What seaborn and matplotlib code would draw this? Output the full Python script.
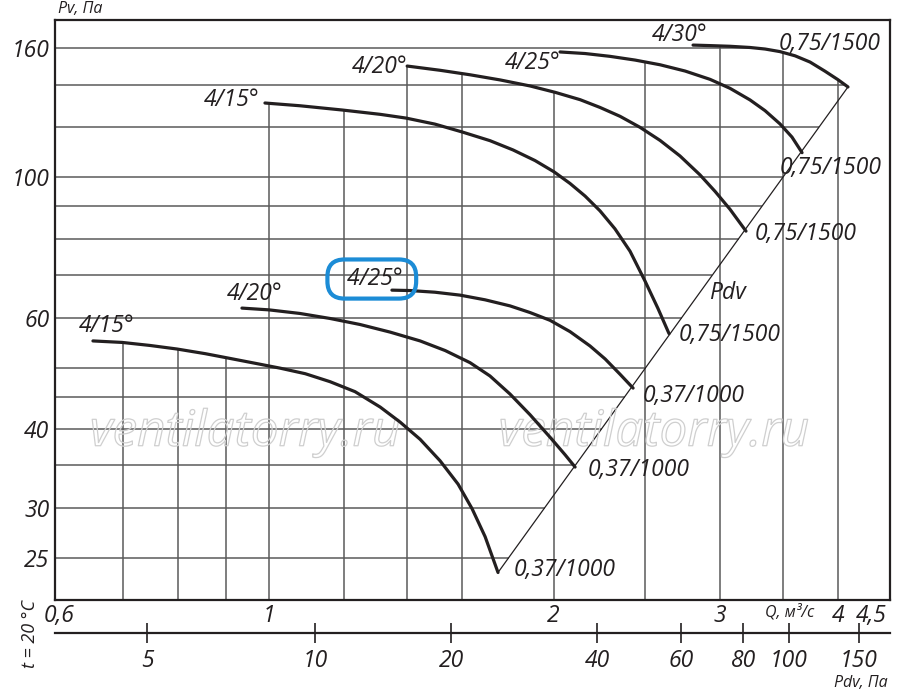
import numpy as np
import pandas as pd
import matplotlib
matplotlib.use("Agg")
import matplotlib.pyplot as plt
import matplotlib.patheffects as pe
from matplotlib.ticker import NullLocator
import seaborn as sns

# %% data: Q [m3/s], Pv [Pa]
curve_names = ["low_15", "low_20", "low_25", "up_15", "up_20", "up_25", "up_30"]
angle_labels = ["4/15°", "4/20°", "4/25°", "4/15°", "4/20°", "4/25°", "4/30°"]
motor_labels = ["0,37/1000", "0,37/1000", "0,37/1000",
                "0,75/1500", "0,75/1500", "0,75/1500", "0,75/1500"]

q_low_15 = [0.651, 0.699, 0.748, 0.799, 0.856, 0.909, 0.966, 1.027, 1.092, 1.160,
            1.233, 1.311, 1.376, 1.445, 1.517, 1.585, 1.640, 1.693, 1.747]
pv_low_15 = [55.1, 54.8, 54.2, 53.5, 52.6, 51.7, 50.8, 49.9, 48.9, 47.5,
             45.8, 43.3, 41.0, 38.5, 35.6, 32.7, 29.9, 27.0, 23.7]

q_low_20 = [0.936, 1.0, 1.078, 1.160, 1.248, 1.343, 1.445, 1.536, 1.632, 1.713,
            1.799, 1.889, 1.983, 2.057, 2.108]
pv_low_20 = [62.1, 61.7, 60.9, 59.8, 58.5, 56.9, 55.1, 53.2, 50.9, 48.5,
             45.4, 42.1, 38.8, 36.4, 34.8]

q_low_25 = [1.349, 1.410, 1.498, 1.593, 1.693, 1.799, 1.889, 1.983, 2.082, 2.186,
            2.268, 2.352, 2.428]
pv_low_25 = [66.3, 66.2, 65.8, 65.1, 64.0, 62.6, 61.1, 59.4, 57.0, 54.1,
             51.6, 48.8, 46.4]

q_up_15 = [0.990, 1.078, 1.195, 1.311, 1.396, 1.498, 1.600, 1.713, 1.812, 1.912,
           2.003, 2.082, 2.160, 2.240, 2.323, 2.410, 2.500, 2.580, 2.650]
pv_up_15 = [131.1, 129.8, 127.8, 125.8, 124.1, 121.4, 118.0, 114.3, 110.5, 106.3,
            102.0, 97.8, 93.4, 88.5, 82.9, 76.4, 68.5, 62.0, 56.6]

q_up_20 = [1.400, 1.517, 1.632, 1.756, 1.889, 2.008, 2.134, 2.240, 2.352, 2.469,
           2.593, 2.722, 2.858, 2.965, 3.075, 3.197]
pv_up_20 = [150.0, 147.7, 145.3, 142.6, 139.5, 136.3, 132.7, 129.0, 124.9, 120.0,
            114.4, 108.1, 100.9, 95.0, 89.0, 82.2]

q_up_25 = [2.032, 2.160, 2.295, 2.440, 2.593, 2.756, 2.929, 3.075, 3.228, 3.349,
           3.473, 3.576, 3.665]
pv_up_25 = [157.9, 157.0, 155.4, 153.3, 150.7, 147.3, 142.9, 138.3, 132.6, 127.5,
            121.5, 115.8, 109.4]

q_up_30 = [2.810, 2.929, 3.075, 3.228, 3.349, 3.473, 3.603, 3.737, 3.876, 4.001, 4.099]
pv_up_30 = [161.9, 161.6, 161.2, 160.5, 159.6, 158.1, 155.7, 152.2, 147.2, 142.7, 139.0]

curve_q = [q_low_15, q_low_20, q_low_25, q_up_15, q_up_20, q_up_25, q_up_30]
curve_pv = [pv_low_15, pv_low_20, pv_low_25, pv_up_15, pv_up_20, pv_up_25, pv_up_30]

# axis ticks
pv_ticks = [25, 30, 40, 60, 100, 160]
q_ticks = [0.6, 1, 2, 3, 4, 4.5]
q_tick_labels = ["0,6", "1", "2", "3", "4", "4,5"]
pdv_tick_labels = ["5", "10", "20", "40", "60", "80", "100", "150"]
pdv_tick_q = [0.743, 1.118, 1.558, 2.224, 2.729, 3.175, 3.550, 4.211]

# grid levels
grid_q = [0.7, 0.8, 0.9, 1.0, 1.2, 1.4, 1.6, 2.0, 2.5, 3.0, 3.5, 4.0]
grid_pv = [25, 30, 35, 40, 45, 50, 60, 70, 80, 90, 100, 120, 140, 160]

# label offsets (points) from curve start / end
start_offsets = [(10, 11), (9, 10), (-14.5, 8), (-24, 2), (-20, -1), (-20, -8), (-10, 7)]
end_offsets = [(11, 2), (9, -2), (7, -6), (7, -1), (6, -2), (-16, -11), (-50, 31)]

# %%
sns.set_theme(style="white")
plt.rcParams["font.family"] = ["Open Sans", "DejaVu Sans"]
plt.rcParams["font.style"] = "italic"
ink = "#231f20"

fig = plt.figure(figsize=(9, 6.96), dpi=100)
ax = fig.add_axes([55 / 900, 1 - 600 / 696, 835 / 900, 580 / 696])
ax.set_xscale("log")
ax.set_yscale("log")
ax.set_xlim(0.5935, 4.541)
ax.set_ylim(21.44, 177.4)

frames = [pd.DataFrame({"curve": n, "Q": q, "Pv": p})
          for n, q, p in zip(curve_names, curve_q, curve_pv)]
df = pd.concat(frames, ignore_index=True)


def envelope(q):
    q = np.atleast_1d(q)
    vals = np.full(q.shape, -np.inf)
    for cq, cp in zip(curve_q, curve_pv):
        v = np.interp(np.log10(q), np.log10(cq), np.log10(cp), left=-np.inf, right=-np.inf)
        vals = np.maximum(vals, v)
    return 10 ** vals


# line of dynamic pressure through the curve end points
lq0, lp0 = np.log10(curve_q[0][-1]), np.log10(curve_pv[0][-1])
lq1, lp1 = np.log10(curve_q[-1][-1]), np.log10(curve_pv[-1][-1])


def q_on_pdv(level):
    return 10 ** (lq0 + (np.log10(level) - lp0) * (lq1 - lq0) / (lp1 - lp0))


# grid clipped by curves and Pdv line
grid_color = "#5a5a5a"
y_bottom = ax.get_ylim()[0]
ax.vlines(grid_q, y_bottom, envelope(np.array(grid_q)), color=grid_color, lw=1.1, zorder=1)
q_fine = np.geomspace(0.6, 4.5, 3000)
env_fine = envelope(q_fine)
for level in grid_pv:
    q_env = q_fine[env_fine >= level].max()
    q_end = min(q_on_pdv(level), q_env)
    ax.hlines(level, ax.get_xlim()[0], q_end, color=grid_color, lw=1.1, zorder=1)

sns.lineplot(data=df, x="Q", y="Pv", units="curve", estimator=None, sort=False,
             color=ink, lw=2.3, ax=ax, zorder=3)
sns.lineplot(x=[curve_q[0][-1], curve_q[-1][-1]], y=[curve_pv[0][-1], curve_pv[-1][-1]],
             color=ink, lw=0.9, ax=ax, zorder=2)

# curve labels
fs = 16.5
for i, (q, p) in enumerate(zip(curve_q, curve_pv)):
    kw = {}
    label = angle_labels[i]
    if i == 2:
        # highlighted label: spaces widen the pill-shaped frame
        label = "  " + label + " "
        kw["bbox"] = dict(boxstyle="round,pad=0.33,rounding_size=0.75", fc="none",
                          ec="#1c8cd6", lw=3)
    ax.annotate(label, (q[0], p[0]), xytext=start_offsets[i],
                textcoords="offset points", ha="center", va="center",
                fontsize=fs, color=ink, zorder=4, **kw)
    ax.annotate(motor_labels[i], (q[-1], p[-1]), xytext=end_offsets[i],
                textcoords="offset points", ha="left", va="center",
                fontsize=fs, color=ink, zorder=4)

ax.text(3.053, 65.6, "Pdv", ha="center", va="center", fontsize=fs, color=ink)

# watermark
for xf in [0.2275, 0.717]:
    ax.text(xf, 0.266, "ventilatorry.ru", transform=ax.transAxes, ha="center",
            va="baseline", fontsize=35.5, color="none", zorder=2,
            path_effects=[pe.Stroke(linewidth=0.9, foreground="#cfcfcf")])

# axes / ticks
ax.set_xticks(q_ticks, labels=q_tick_labels)
ax.set_yticks(pv_ticks, labels=[str(v) for v in pv_ticks])
ax.xaxis.set_minor_locator(NullLocator())
ax.yaxis.set_minor_locator(NullLocator())
ax.tick_params(which="both", length=0, labelsize=fs, labelcolor=ink)
ax.tick_params(axis="x", pad=3)
ax.tick_params(axis="y", pad=4)
ax.get_xticklabels()[-1].set_horizontalalignment("right")
ax.set_xlabel("")
ax.set_ylabel("")
for s in ax.spines.values():
    s.set_visible(True)
    s.set_color(ink)
    s.set_linewidth(1.6)

sec = ax.secondary_xaxis(-33 / 580)
sec.set_xticks(pdv_tick_q, labels=pdv_tick_labels)
sec.xaxis.set_minor_locator(NullLocator())
sec.tick_params(direction="inout", length=15, width=1.2, pad=4, labelsize=fs,
                color=ink, labelcolor=ink)
sec.spines["bottom"].set_linewidth(1.6)
sec.spines["bottom"].set_color(ink)

fig.text(58 / 900, 1 - 9 / 696, "Pv, Па", ha="left", va="center", fontsize=11.5, color=ink)
fig.text(790 / 900, 1 - 612 / 696, "Q, м³/с", ha="center", va="center", fontsize=11.5, color=ink)
fig.text(888 / 900, 1 - 683 / 696, "Pdv, Па", ha="right", va="center", fontsize=11.5, color=ink)
fig.text(30 / 900, 1 - 634 / 696, "t = 20 °C", rotation=90, ha="center", va="center",
         fontsize=13, color=ink)

fig.savefig("out.png", dpi=100, facecolor="white")
